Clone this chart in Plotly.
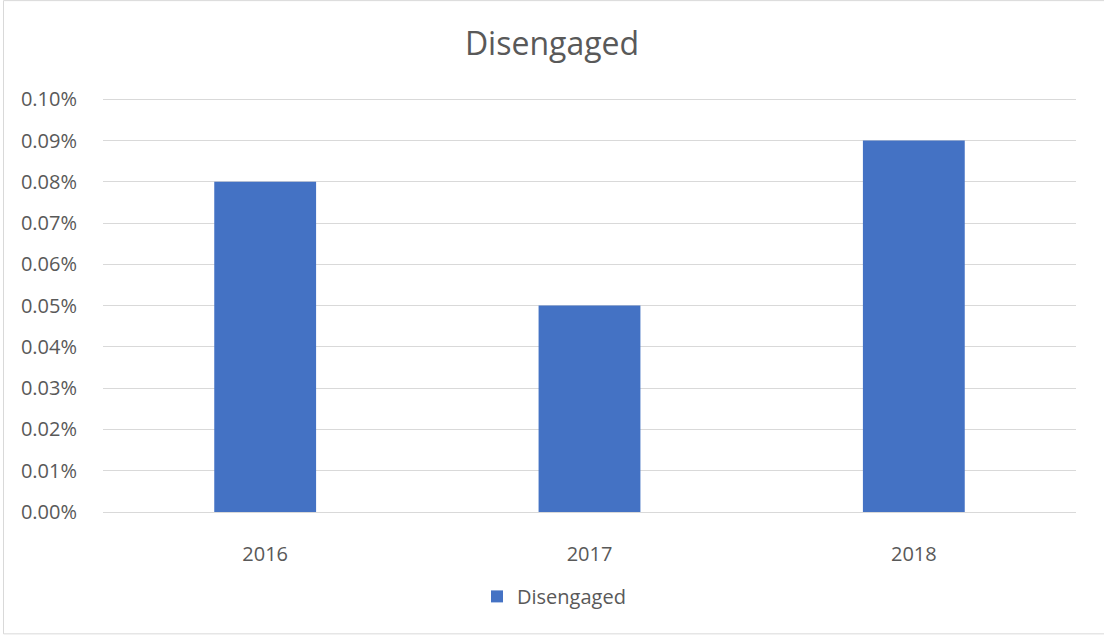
import plotly.graph_objects as go

# Chart data
years = ["2016", "2017", "2018"]
disengaged = [0.0008, 0.0005, 0.0009]
y_ticks = [0.0, 0.0001, 0.0002, 0.0003, 0.0004, 0.0005, 0.0006, 0.0007, 0.0008, 0.0009, 0.0010]
y_tick_text = ["0.00%", "0.01%", "0.02%", "0.03%", "0.04%", "0.05%", "0.06%", "0.07%", "0.08%", "0.09%", "0.10%"]

W, H = 1104, 636
L, R, T, B = 103, 28, 98, 123.5
pw = W - L - R
ph = H - T - B

TEXT = "#595959"
FONT = "'Open Sans', Lato, sans-serif"

fig = go.Figure()
fig.add_trace(go.Bar(
    x=years, y=disengaged, name="Disengaged",
    marker=dict(color="#4472C4", line=dict(width=0)),
    width=0.314,
))

def px_x(p):
    return (p - L) / pw

def px_y(p):
    return (H - B - p) / ph

fig.update_layout(
    width=W, height=H,
    margin=dict(l=L, r=R, t=T, b=B, pad=0),
    paper_bgcolor="white", plot_bgcolor="white",
    font=dict(family=FONT, color=TEXT, size=20),
    title=dict(text="Disengaged", x=0.5, xref="container", xanchor="center",
               y=1 - 44 / H, yref="container", yanchor="middle",
               font=dict(size=32, color=TEXT, family=FONT)),
    showlegend=True,
    legend=dict(orientation="h", x=px_x(477), xanchor="left",
                y=px_y(597), yanchor="middle",
                font=dict(size=20, color=TEXT, family=FONT),
                bgcolor="rgba(0,0,0,0)"),
    xaxis=dict(showgrid=False, showline=True, linecolor="#d9d9d9", linewidth=1,
               ticks="outside", ticklen=24, tickcolor="rgba(0,0,0,0)",
               tickfont=dict(size=20, color=TEXT), fixedrange=True),
    yaxis=dict(range=[0, 0.001003], tickvals=y_ticks, ticktext=y_tick_text,
               showgrid=True, gridcolor="#d9d9d9", gridwidth=1,
               zeroline=False, showline=False,
               ticks="outside", ticklen=21, tickcolor="rgba(0,0,0,0)",
               tickfont=dict(size=20, color=TEXT), fixedrange=True),
    shapes=[dict(type="rect", xref="paper", yref="paper",
                 x0=px_x(3.5), x1=px_x(W + 5), y0=px_y(634.5), y1=px_y(0.5),
                 line=dict(color="#d9d9d9", width=1), fillcolor="rgba(0,0,0,0)",
                 layer="below")],
)

fig.write_html("out.html")
